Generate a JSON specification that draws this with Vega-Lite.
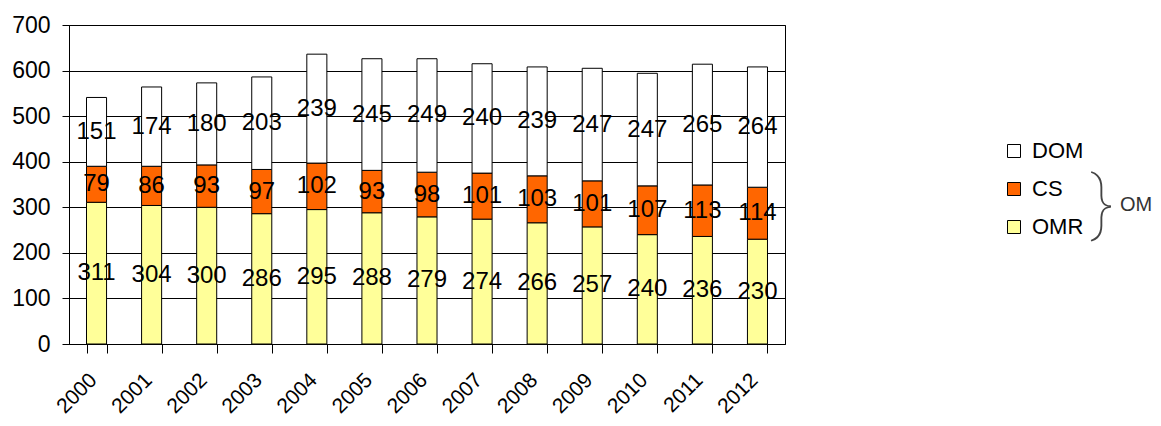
{
  "$schema": "https://vega.github.io/schema/vega-lite/v6.json",
  "background": "white",
  "padding": {"left": 11, "top": 13, "right": 0, "bottom": 0},
  "config": {"font": "Liberation Sans", "concat": {"spacing": 304}},
  "datasets": {
    "main": [
      {"year": "2000", "series": "OMR", "layer": 1, "value": 311},
      {"year": "2000", "series": "CS", "layer": 2, "value": 79},
      {"year": "2000", "series": "DOM", "layer": 3, "value": 151},
      {"year": "2001", "series": "OMR", "layer": 1, "value": 304},
      {"year": "2001", "series": "CS", "layer": 2, "value": 86},
      {"year": "2001", "series": "DOM", "layer": 3, "value": 174},
      {"year": "2002", "series": "OMR", "layer": 1, "value": 300},
      {"year": "2002", "series": "CS", "layer": 2, "value": 93},
      {"year": "2002", "series": "DOM", "layer": 3, "value": 180},
      {"year": "2003", "series": "OMR", "layer": 1, "value": 286},
      {"year": "2003", "series": "CS", "layer": 2, "value": 97},
      {"year": "2003", "series": "DOM", "layer": 3, "value": 203},
      {"year": "2004", "series": "OMR", "layer": 1, "value": 295},
      {"year": "2004", "series": "CS", "layer": 2, "value": 102},
      {"year": "2004", "series": "DOM", "layer": 3, "value": 239},
      {"year": "2005", "series": "OMR", "layer": 1, "value": 288},
      {"year": "2005", "series": "CS", "layer": 2, "value": 93},
      {"year": "2005", "series": "DOM", "layer": 3, "value": 245},
      {"year": "2006", "series": "OMR", "layer": 1, "value": 279},
      {"year": "2006", "series": "CS", "layer": 2, "value": 98},
      {"year": "2006", "series": "DOM", "layer": 3, "value": 249},
      {"year": "2007", "series": "OMR", "layer": 1, "value": 274},
      {"year": "2007", "series": "CS", "layer": 2, "value": 101},
      {"year": "2007", "series": "DOM", "layer": 3, "value": 240},
      {"year": "2008", "series": "OMR", "layer": 1, "value": 266},
      {"year": "2008", "series": "CS", "layer": 2, "value": 103},
      {"year": "2008", "series": "DOM", "layer": 3, "value": 239},
      {"year": "2009", "series": "OMR", "layer": 1, "value": 257},
      {"year": "2009", "series": "CS", "layer": 2, "value": 101},
      {"year": "2009", "series": "DOM", "layer": 3, "value": 247},
      {"year": "2010", "series": "OMR", "layer": 1, "value": 240},
      {"year": "2010", "series": "CS", "layer": 2, "value": 107},
      {"year": "2010", "series": "DOM", "layer": 3, "value": 247},
      {"year": "2011", "series": "OMR", "layer": 1, "value": 236},
      {"year": "2011", "series": "CS", "layer": 2, "value": 113},
      {"year": "2011", "series": "DOM", "layer": 3, "value": 265},
      {"year": "2012", "series": "OMR", "layer": 1, "value": 230},
      {"year": "2012", "series": "CS", "layer": 2, "value": 114},
      {"year": "2012", "series": "DOM", "layer": 3, "value": 264}
    ],
    "note": [
      {"k": "}"},
      {"k": "OM"}
    ]
  },
  "hconcat": [
    {
      "width": 716,
      "height": 319,
      "view": {"stroke": "black", "strokeWidth": 1},
      "data": {"name": "main"},
      "transform": [
        {"stack": "value", "groupby": ["year"], "sort": [{"field": "layer", "order": "ascending"}], "as": ["v0", "v1"]},
        {"calculate": "(datum.v0 + datum.v1) / 2", "as": "mid"}
      ],
      "encoding": {
        "x": {
          "field": "year",
          "type": "ordinal",
          "title": null,
          "scale": {"paddingInner": 0.636, "paddingOuter": 0.318},
          "axis": {
            "tickBand": "extent",
            "tickSize": 9,
            "tickColor": "black",
            "domainColor": "black",
            "labelAngle": -45,
            "labelFontSize": 21,
            "labelColor": "black",
            "labelPadding": 16,
            "labelOffset": -11,
            "grid": false
          }
        }
      },
      "layer": [
        {
          "mark": {"type": "bar", "stroke": "black", "strokeWidth": 1},
          "encoding": {
            "y": {
              "field": "v0",
              "type": "quantitative",
              "title": null,
              "scale": {"domain": [0, 700]},
              "axis": {
                "values": [0, 100, 200, 300, 400, 500, 600, 700],
                "grid": true,
                "gridColor": "black",
                "gridOpacity": 1,
                "domainColor": "black",
                "tickColor": "black",
                "tickSize": 7,
                "labelFontSize": 23,
                "labelColor": "black",
                "labelPadding": 12
              }
            },
            "y2": {"field": "v1"},
            "color": {
              "field": "series",
              "type": "nominal",
              "scale": {"domain": ["DOM", "CS", "OMR"], "range": ["#FFFFFF", "#FF6600", "#FFFF99"]},
              "legend": {
                "orient": "none",
                "legendX": 934,
                "legendY": 115,
                "title": null,
                "padding": 0,
                "symbolType": "square",
                "symbolSize": 169,
                "symbolStrokeColor": "black",
                "symbolStrokeWidth": 1,
                "symbolOpacity": 1,
                "labelFontSize": 22,
                "labelColor": "black",
                "labelOffset": 7,
                "rowPadding": 16
              }
            }
          }
        },
        {
          "mark": {"type": "text", "fontSize": 24, "color": "black", "baseline": "middle"},
          "encoding": {
            "y": {"field": "mid", "type": "quantitative"},
            "text": {"field": "value", "type": "quantitative"}
          }
        }
      ]
    },
    {
      "width": 36,
      "height": 360,
      "view": {"stroke": null},
      "data": {"name": "note"},
      "encoding": {
        "x": {"field": "k", "type": "nominal", "axis": null, "scale": {"domain": ["}", "OM"]}},
        "text": {"field": "k"}
      },
      "layer": [
        {
          "transform": [{"filter": "datum.k === '}'"}],
          "mark": {"type": "text", "fontSize": 70, "font": "Roboto", "fontWeight": 100, "color": "#444444", "baseline": "middle"}
        },
        {
          "transform": [{"filter": "datum.k === 'OM'"}],
          "mark": {"type": "text", "fontSize": 20, "color": "#333333", "baseline": "middle", "align": "left"}
        }
      ]
    }
  ]
}
